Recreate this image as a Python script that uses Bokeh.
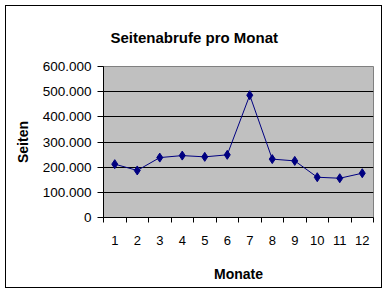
from bokeh.plotting import figure
from bokeh.models import FixedTicker, Range1d
from bokeh.embed import file_html
from bokeh.resources import INLINE

# Data
months = list(range(1, 13))
month_labels = [str(m) for m in months]
views = [212000, 187000, 238000, 246000, 241000, 249000, 486000, 232000, 225000, 160000, 156000, 176000]
y_ticks = [0, 100000, 200000, 300000, 400000, 500000, 600000]
y_tick_labels = ["0", "100.000", "200.000", "300.000", "400.000", "500.000", "600.000"]
title_text = "Seitenabrufe pro Monat"
x_title = "Monate"
y_title = "Seiten"

FONT = "Liberation Sans"
W, H = 377, 283

p = figure(width=W, height=H, output_backend="svg", toolbar_location=None,
           x_range=Range1d(0.5, 12.5), y_range=Range1d(0, 600000),
           min_border_left=97, min_border_right=10, min_border_top=60, min_border_bottom=72,
           margin=(5, 0, 0, 5), styles={"border": "1px solid black"},
           title=title_text)

p.background_fill_color = "#C0C0C0"
p.border_fill_color = "white"
p.outline_line_color = "#808080"
p.outline_line_width = 1

p.title.text_font = FONT
p.title.text_font_size = "15px"
p.title.text_font_style = "bold"
p.title.text_color = "black"
p.title.align = "left"
p.title.offset = 7
p.title.vertical_align = "top"
p.title.standoff = 38

# X axis (categories between minor ticks)
xa = p.below[0]
xa.ticker = FixedTicker(ticks=months, minor_ticks=[m - 0.5 for m in months] + [12.5])
xa.major_label_overrides = {m: l for m, l in zip(months, month_labels)}
xa.major_tick_line_color = None
xa.minor_tick_line_color = "black"
xa.minor_tick_out = 5
xa.minor_tick_in = 0
xa.axis_line_color = "black"
xa.major_label_standoff = 12
xa.major_label_text_font = FONT
xa.major_label_text_font_size = "13px"
xa.major_label_text_color = "black"
xa.axis_label = x_title
xa.axis_label_text_font = FONT
xa.axis_label_text_font_size = "14px"
xa.axis_label_text_font_style = "bold"
xa.axis_label_text_color = "black"
xa.axis_label_standoff = 18

# Y axis
ya = p.left[0]
ya.ticker = FixedTicker(ticks=y_ticks, minor_ticks=[])
ya.major_label_overrides = {t: l for t, l in zip(y_ticks, y_tick_labels)}
ya.major_tick_line_color = "black"
ya.major_tick_out = 6
ya.major_tick_in = 0
ya.axis_line_color = "black"
ya.major_label_standoff = 6
ya.major_label_text_font = FONT
ya.major_label_text_font_size = "13.5px"
ya.major_label_text_color = "black"
ya.axis_label = y_title
ya.axis_label_text_font = FONT
ya.axis_label_text_font_size = "14px"
ya.axis_label_text_font_style = "bold"
ya.axis_label_text_color = "black"
ya.axis_label_standoff = 9

p.xgrid.grid_line_color = None
p.ygrid.grid_line_color = "black"
p.ygrid.grid_line_width = 1

p.line(months, views, line_color="#000080", line_width=1)
p.scatter(months, views, marker="diamond", size=9, fill_color="#000080", line_color="#000080")

open("out.html", "w").write(file_html(p, INLINE))
